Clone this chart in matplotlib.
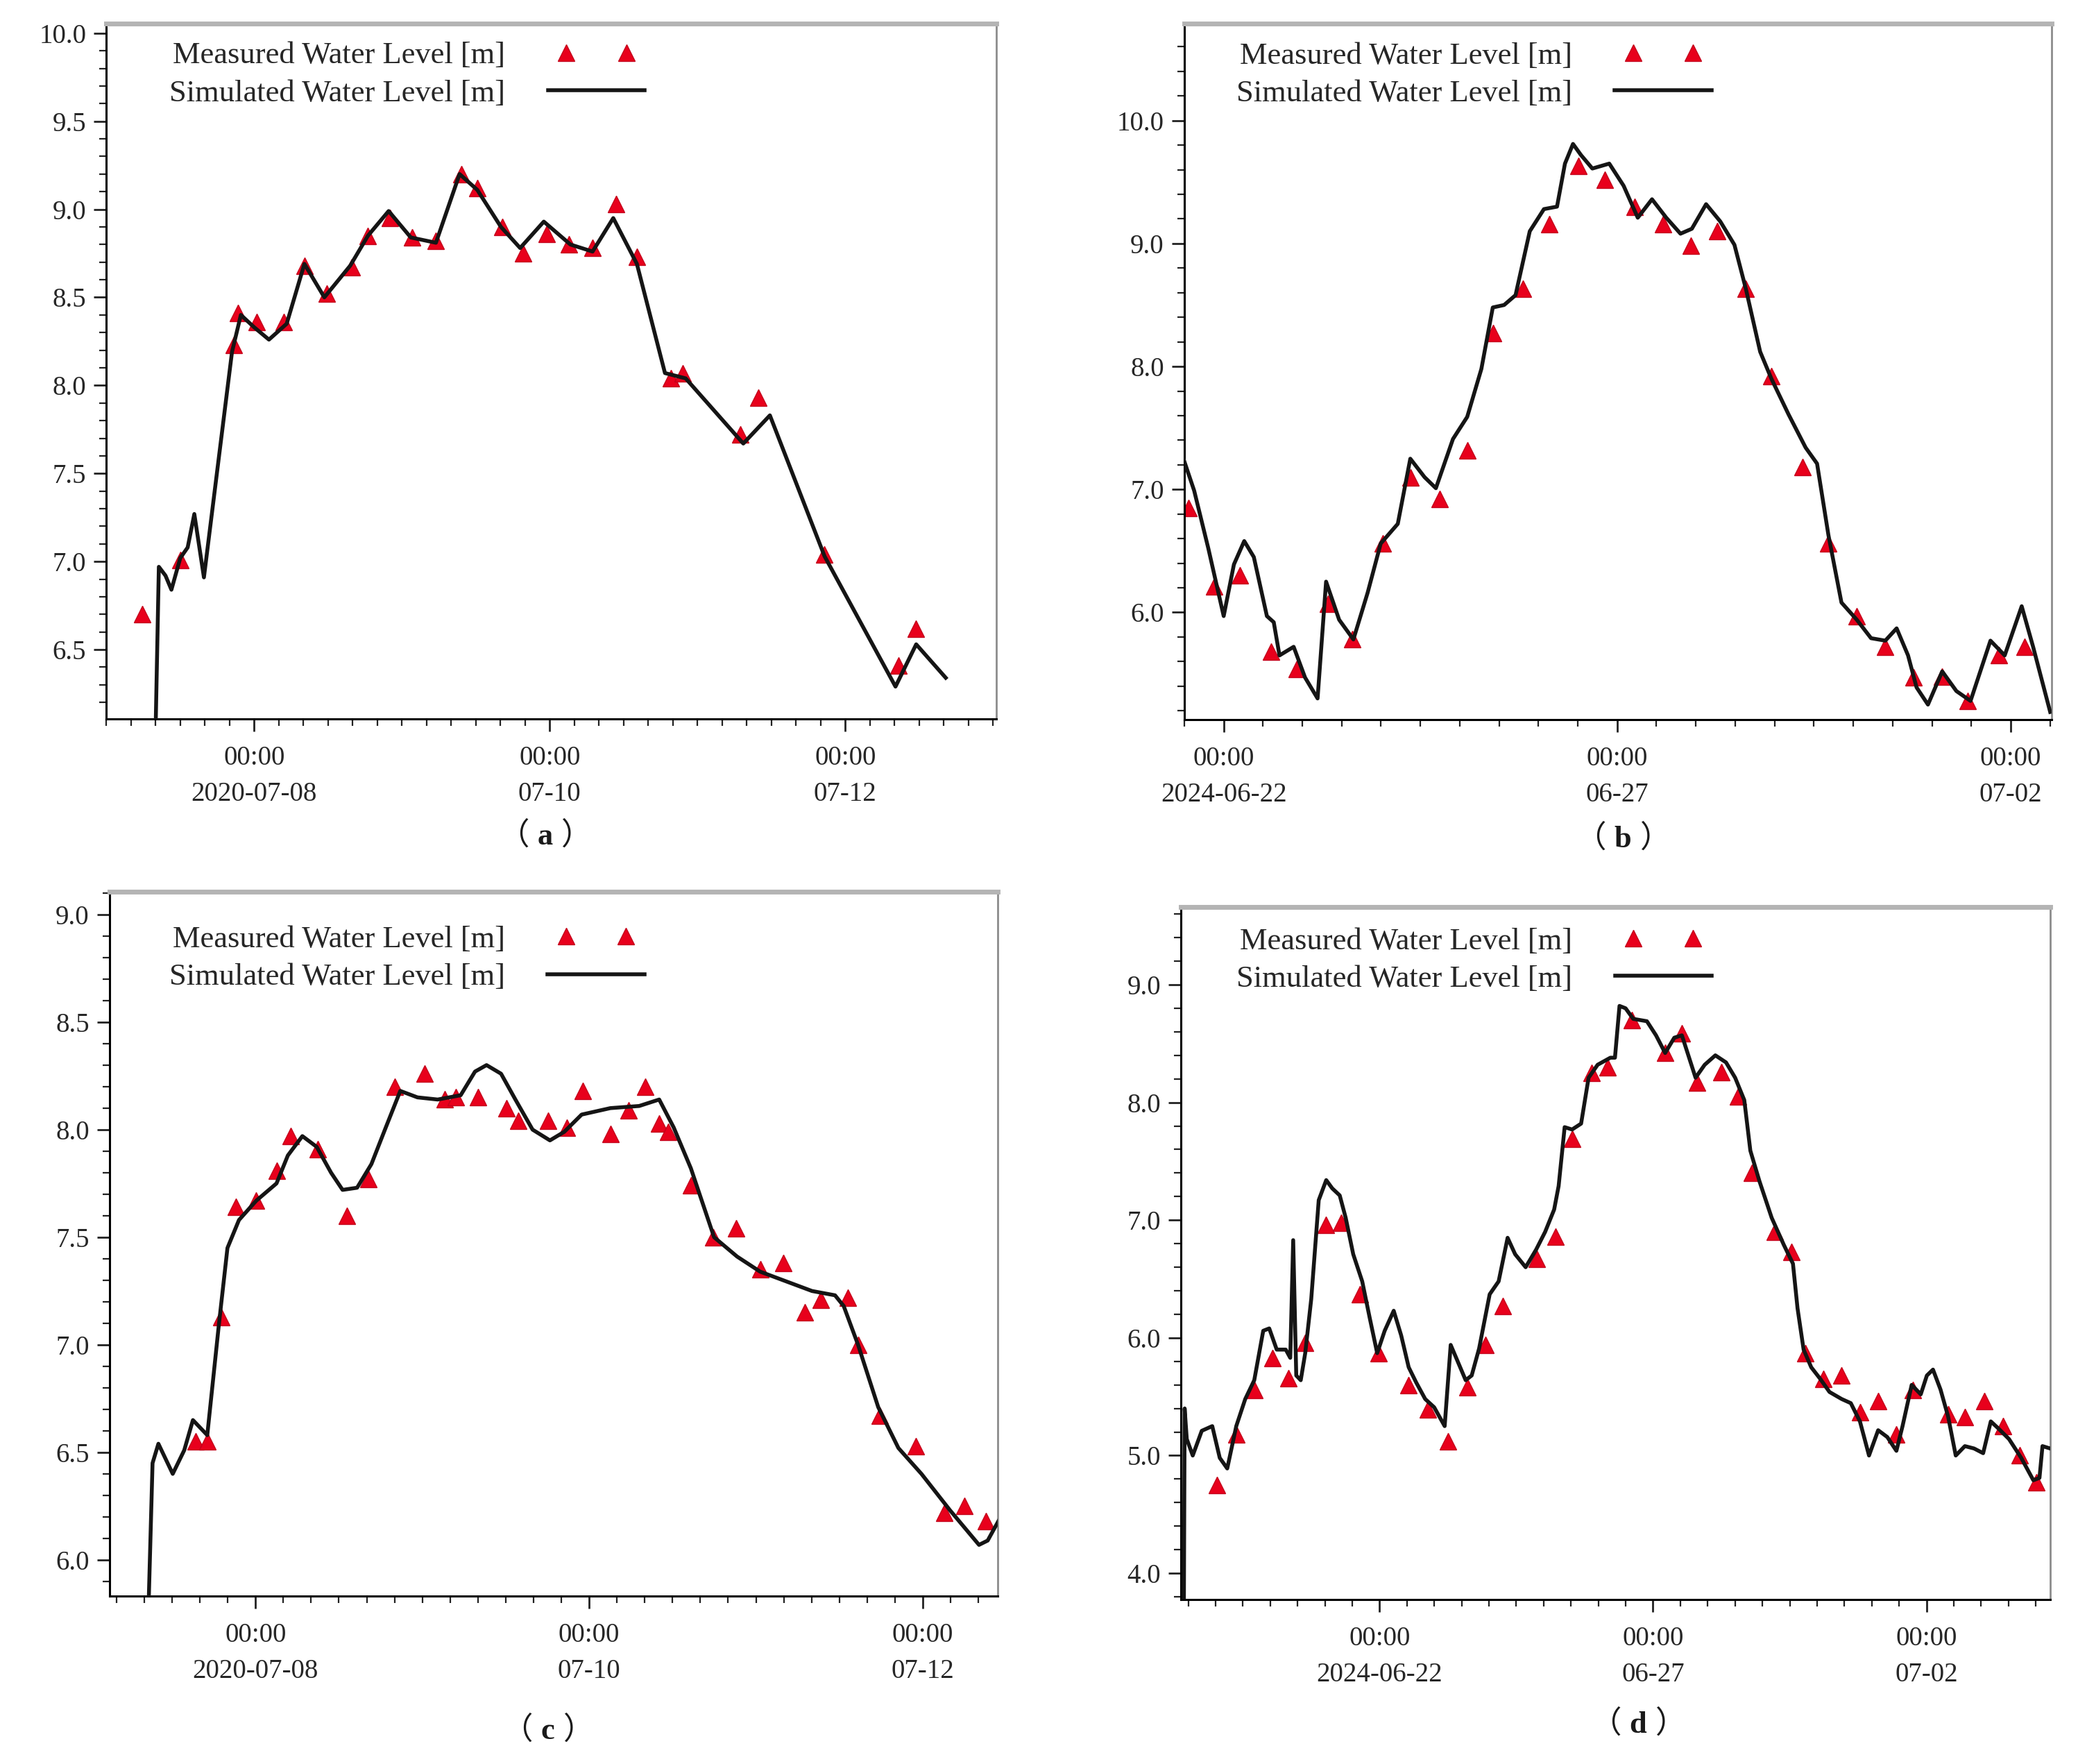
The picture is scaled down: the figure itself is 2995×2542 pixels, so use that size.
import numpy as np
import pandas as pd
import matplotlib
matplotlib.use("Agg")
import matplotlib.pyplot as plt
import matplotlib.dates as mdates
from matplotlib.legend_handler import HandlerLine2D
from matplotlib.ticker import MultipleLocator, FormatStrFormatter

plt.rcParams["font.family"] = ["Liberation Serif", "Noto Sans CJK SC"]
plt.rcParams["mathtext.fontset"] = "custom"
plt.rcParams["mathtext.rm"] = "Liberation Serif"
plt.rcParams["mathtext.bf"] = "Liberation Serif:bold"

# ---- data: times are days from the first labelled date (00:00) ----
base_ac = "2020-07-08"
base_bd = "2024-06-22"

sim_a_day = [-0.68, -0.645, -0.60, -0.56, -0.50, -0.45, -0.405, -0.34, -0.15, -0.09,
             0.0, 0.10, 0.22, 0.34, 0.475, 0.65, 0.77, 0.91, 1.06, 1.23,
             1.39, 1.51, 1.67, 1.80, 1.96, 2.14, 2.29, 2.43, 2.59, 2.78,
             2.92, 3.31, 3.49, 3.86, 4.34, 4.48, 4.68]
sim_a_lvl = [5.5, 6.97, 6.92, 6.84, 7.02, 7.08, 7.27, 6.91, 8.19, 8.40,
             8.33, 8.26, 8.35, 8.69, 8.50, 8.68, 8.85, 8.99, 8.84, 8.81,
             9.20, 9.11, 8.90, 8.78, 8.93, 8.80, 8.76, 8.95, 8.69, 8.07,
             8.04, 7.67, 7.83, 7.03, 6.29, 6.53, 6.34]
meas_a_day = [-0.757, -0.50, -0.14, -0.11, 0.016, 0.20, 0.34, 0.49, 0.66, 0.77,
              0.92, 1.07, 1.23, 1.40, 1.51, 1.68, 1.82, 1.98, 2.13, 2.29,
              2.45, 2.59, 2.82, 2.90, 3.29, 3.41, 3.86, 4.36, 4.48]
meas_a_lvl = [6.70, 7.01, 8.23, 8.41, 8.36, 8.36, 8.68, 8.52, 8.67, 8.85,
              8.95, 8.84, 8.82, 9.20, 9.12, 8.90, 8.75, 8.86, 8.80, 8.78,
              9.03, 8.73, 8.04, 8.07, 7.72, 7.93, 7.04, 6.41, 6.62]

sim_b_day = [-0.50, -0.374, -0.194, 0.001, 0.131, 0.262, 0.384, 0.55, 0.637, 0.71,
             0.89, 1.035, 1.194, 1.302, 1.468, 1.649, 1.83, 1.996, 2.213, 2.372,
             2.553, 2.697, 2.914, 3.095, 3.275, 3.42, 3.564, 3.709, 3.89, 4.07,
             4.236, 4.337, 4.439, 4.54, 4.685, 4.90, 5.082, 5.262, 5.443, 5.624,
             5.805, 5.949, 6.13, 6.31, 6.49, 6.636, 6.817, 6.96, 7.178, 7.395,
             7.54, 7.684, 7.85, 8.045, 8.226, 8.407, 8.551, 8.696, 8.804, 8.949,
             9.13, 9.31, 9.49, 9.743, 9.924, 10.14, 10.285, 10.502]
sim_b_lvl = [7.23, 6.99, 6.52, 5.97, 6.39, 6.58, 6.45, 5.97, 5.92, 5.65,
             5.72, 5.47, 5.30, 6.25, 5.94, 5.78, 6.16, 6.56, 6.72, 7.25,
             7.10, 7.01, 7.41, 7.59, 7.98, 8.48, 8.50, 8.58, 9.10, 9.28,
             9.30, 9.65, 9.81, 9.72, 9.61, 9.65, 9.47, 9.21, 9.36, 9.21,
             9.08, 9.12, 9.32, 9.18, 8.99, 8.63, 8.12, 7.90, 7.61, 7.34,
             7.21, 6.63, 6.08, 5.94, 5.79, 5.77, 5.87, 5.65, 5.39, 5.25,
             5.52, 5.36, 5.28, 5.77, 5.65, 6.05, 5.72, 5.19]
meas_b_day = [-0.447, -0.12, 0.204, 0.601, 0.926, 1.324, 1.635, 2.025, 2.372, 2.748,
              3.095, 3.42, 3.803, 4.142, 4.504, 4.843, 5.226, 5.588, 5.935, 6.275,
              6.636, 6.96, 7.358, 7.684, 8.045, 8.407, 8.77, 9.13, 9.455, 9.852,
              10.177]
meas_b_lvl = [6.85, 6.21, 6.30, 5.68, 5.54, 6.07, 5.78, 6.56, 7.10, 6.92,
              7.32, 8.27, 8.63, 9.16, 9.63, 9.52, 9.30, 9.16, 8.98, 9.10,
              8.63, 7.92, 7.18, 6.56, 5.97, 5.72, 5.47, 5.48, 5.28, 5.65,
              5.72]

sim_c_day = [-0.651, -0.617, -0.582, -0.496, -0.427, -0.375, -0.289, -0.22, -0.168, -0.099,
             0.005, 0.126, 0.194, 0.281, 0.367, 0.453, 0.522, 0.609, 0.695, 0.781,
             0.868, 0.971, 1.092, 1.23, 1.316, 1.385, 1.472, 1.558, 1.661, 1.765,
             1.851, 1.955, 2.127, 2.30, 2.42, 2.507, 2.61, 2.749, 2.887, 3.025,
             3.163, 3.336, 3.474, 3.526, 3.612, 3.733, 3.854, 3.992, 4.164, 4.337,
             4.389, 4.46]
sim_c_lvl = [5.5, 6.45, 6.54, 6.40, 6.51, 6.65, 6.58, 7.09, 7.45, 7.58,
             7.67, 7.75, 7.88, 7.97, 7.92, 7.80, 7.72, 7.73, 7.84, 8.01,
             8.18, 8.15, 8.14, 8.16, 8.27, 8.30, 8.26, 8.14, 8.00, 7.95,
             7.99, 8.07, 8.10, 8.11, 8.14, 8.01, 7.82, 7.50, 7.41, 7.34,
             7.30, 7.25, 7.23, 7.18, 7.00, 6.71, 6.52, 6.40, 6.23, 6.07,
             6.09, 6.19]
meas_c_day = [-0.358, -0.289, -0.203, -0.116, 0.005, 0.126, 0.212, 0.374, 0.547, 0.678,
              0.833, 1.012, 1.133, 1.202, 1.334, 1.506, 1.575, 1.755, 1.868, 1.962,
              2.127, 2.238, 2.335, 2.421, 2.473, 2.61, 2.742, 2.88, 3.025, 3.163,
              3.294, 3.387, 3.55, 3.612, 3.743, 3.957, 4.13, 4.25, 4.378]
meas_c_lvl = [6.55, 6.55, 7.13, 7.64, 7.67, 7.81, 7.97, 7.91, 7.60, 7.77,
              8.20, 8.26, 8.14, 8.15, 8.15, 8.10, 8.04, 8.04, 8.01, 8.18,
              7.98, 8.09, 8.20, 8.03, 7.99, 7.74, 7.50, 7.54, 7.35, 7.38,
              7.15, 7.21, 7.22, 7.00, 6.67, 6.53, 6.22, 6.25, 6.18]

sim_d_day = [-3.581, -3.565, -3.526, -3.417, -3.252, -3.06, -2.923, -2.786, -2.621, -2.457,
             -2.292, -2.128, -2.018, -1.881, -1.716, -1.634, -1.58, -1.524, -1.442, -1.36,
             -1.25, -1.113, -0.976, -0.866, -0.729, -0.62, -0.482, -0.318, -0.181, -0.044,
             0.093, 0.258, 0.395, 0.532, 0.67, 0.834, 0.998, 1.19, 1.30, 1.437,
             1.574, 1.684, 1.82, 2.013, 2.177, 2.341, 2.479, 2.671, 2.863, 3.027,
             3.192, 3.274, 3.384, 3.52, 3.685, 3.822, 3.987, 4.22, 4.304, 4.387,
             4.498, 4.638, 4.888, 5.055, 5.222, 5.389, 5.528, 5.778, 5.945, 6.14,
             6.335, 6.502, 6.669, 6.78, 6.947, 7.17, 7.392, 7.559, 7.643, 7.754,
             7.893, 8.06, 8.227, 8.45, 8.617, 8.784, 8.95, 9.117, 9.284, 9.451,
             9.563, 9.73, 9.896, 10.008, 10.12, 10.258, 10.397, 10.536, 10.703, 10.87,
             11.037, 11.177, 11.316, 11.51, 11.733, 11.955, 12.067, 12.122, 12.262]
sim_d_lvl = [3.5, 5.40, 5.14, 5.00, 5.21, 5.25, 4.98, 4.89, 5.25, 5.48,
             5.64, 6.06, 6.08, 5.90, 5.90, 5.83, 6.83, 5.68, 5.64, 5.87,
             6.33, 7.17, 7.34, 7.27, 7.21, 7.02, 6.71, 6.48, 6.17, 5.87,
             6.06, 6.23, 6.02, 5.75, 5.62, 5.48, 5.41, 5.25, 5.94, 5.79,
             5.64, 5.68, 5.91, 6.37, 6.48, 6.85, 6.71, 6.60, 6.75, 6.90,
             7.09, 7.29, 7.79, 7.77, 7.82, 8.21, 8.32, 8.38, 8.38, 8.82,
             8.80, 8.71, 8.69, 8.57, 8.42, 8.55, 8.57, 8.21, 8.32, 8.40,
             8.34, 8.21, 8.02, 7.59, 7.33, 7.02, 6.79, 6.63, 6.25, 5.90,
             5.75, 5.65, 5.54, 5.48, 5.445, 5.29, 5.00, 5.215, 5.157, 5.04,
             5.25, 5.60, 5.52, 5.68, 5.73, 5.56, 5.33, 5.00, 5.08, 5.06,
             5.02, 5.29, 5.23, 5.14, 4.98, 4.79, 4.81, 5.08, 5.06]
meas_d_day = [-2.978, -2.621, -2.292, -1.963, -1.662, -1.36, -0.976, -0.702, -0.362, -0.017,
              0.532, 0.888, 1.245, 1.601, 1.93, 2.259, 2.874, 3.219, 3.52, 3.877,
              4.17, 4.61, 5.22, 5.528, 5.806, 6.252, 6.558, 6.808, 7.225, 7.531,
              7.782, 8.116, 8.45, 8.784, 9.117, 9.451, 9.757, 10.397, 10.703, 11.065,
              11.399, 11.705, 12.011]
meas_d_lvl = [4.75, 5.18, 5.56, 5.83, 5.66, 5.96, 6.96, 6.98, 6.37, 5.87,
              5.60, 5.39, 5.12, 5.58, 5.94, 6.27, 6.67, 6.86, 7.69, 8.25,
              8.30, 8.70, 8.42, 8.59, 8.17, 8.26, 8.05, 7.40, 6.90, 6.73,
              5.87, 5.65, 5.68, 5.37, 5.46, 5.18, 5.56, 5.35, 5.33, 5.46,
              5.25, 5.00, 4.77]

tick_days_ac = [0, 2, 4]
tick_labels_ac = ["00:00\n2020-07-08", "00:00\n07-10", "00:00\n07-12"]
tick_days_bd = [0, 5, 10]
tick_labels_bd = ["00:00\n2024-06-22", "00:00\n06-27", "00:00\n07-02"]

label_meas = "Measured Water Level [m]"
label_sim = "Simulated Water Level [m]"
panel_letters = ["a", "b", "c", "d"]


def to_time(base, days):
    return pd.Timestamp(base) + pd.to_timedelta(np.asarray(days, dtype=float), unit="D")


def draw_panel(ax, base, sim_day, sim_lvl, meas_day, meas_lvl, xlim, ylim,
               ystep, yminor, tick_days, tick_labels, minor_hours, leg_xy):
    meas_line, = ax.plot(to_time(base, meas_day), meas_lvl, linestyle="none",
                         marker="^", ms=17, color="#e8001c", mec="#c4001a",
                         label=label_meas, zorder=2)
    sim_line, = ax.plot(to_time(base, sim_day), sim_lvl, color="#151515",
                        lw=4, label=label_sim, zorder=3)
    ax.set_xlim(to_time(base, [xlim[0]])[0], to_time(base, [xlim[1]])[0])
    ax.set_ylim(*ylim)
    ax.set_xticks(list(to_time(base, tick_days)))
    ax.set_xticklabels(tick_labels)
    for lab in ax.get_xticklabels():
        lab.set_linespacing(1.55)
    ax.xaxis.set_minor_locator(mdates.HourLocator(byhour=minor_hours))
    ax.yaxis.set_major_locator(MultipleLocator(ystep))
    ax.yaxis.set_minor_locator(MultipleLocator(yminor))
    ax.yaxis.set_major_formatter(FormatStrFormatter("%.1f"))
    ax.tick_params(which="major", direction="out", length=13, width=2,
                   labelsize=28, labelcolor="#262626", color="#222222")
    ax.tick_params(axis="x", which="major", pad=14)
    ax.tick_params(axis="y", which="major", pad=8)
    ax.tick_params(which="minor", direction="out", length=7, width=1.6,
                   color="#222222")
    ax.spines["left"].set_linewidth(2.2)
    ax.spines["bottom"].set_linewidth(2.2)
    ax.spines["top"].set_color("#b4b4b4")
    ax.spines["top"].set_linewidth(5)
    ax.spines["right"].set_color("#8c8c8c")
    ax.spines["right"].set_linewidth(2)
    leg = ax.legend(handles=[meas_line, sim_line], loc="upper left",
                    bbox_to_anchor=leg_xy, frameon=False, markerfirst=False,
                    numpoints=2, fontsize=32, handlelength=3.74,
                    handletextpad=1.08, labelspacing=0.32, borderpad=0,
                    borderaxespad=0,
                    handler_map={meas_line: HandlerLine2D(marker_pad=0.9)})
    for txt in leg.get_texts():
        txt.set_color("#262626")


fig = plt.figure(figsize=(29.95, 25.42), dpi=100)

ax_a = fig.add_axes([0.0512, 0.5924, 0.4281, 0.3941])
ax_b = fig.add_axes([0.5699, 0.5920, 0.4174, 0.3945])
ax_c = fig.add_axes([0.0527, 0.0952, 0.4275, 0.3993])
ax_d = fig.add_axes([0.5683, 0.0932, 0.4185, 0.3928])

draw_panel(ax_a, base_ac, sim_a_day, sim_a_lvl, meas_a_day, meas_a_lvl,
           (-1.0, 5.02), (6.106, 10.053), 0.5, 0.1, tick_days_ac, tick_labels_ac,
           range(0, 24, 4), (0.071, 0.974))
draw_panel(ax_b, base_bd, sim_b_day, sim_b_lvl, meas_b_day, meas_b_lvl,
           (-0.5, 10.52), (5.127, 10.787), 1.0, 0.2, tick_days_bd, tick_labels_bd,
           [0, 12], (0.06, 0.974))
draw_panel(ax_c, base_ac, sim_c_day, sim_c_lvl, meas_c_day, meas_c_lvl,
           (-0.875, 4.45), (5.832, 9.106), 0.5, 0.1, tick_days_ac, tick_labels_ac,
           range(0, 24, 4), (0.067, 0.952))
draw_panel(ax_d, base_bd, sim_d_day, sim_d_lvl, meas_d_day, meas_d_lvl,
           (-3.633, 12.27), (3.776, 9.663), 1.0, 0.2, tick_days_bd, tick_labels_bd,
           [0, 12], (0.064, 0.970))

# panel tags: full-width brackets around a bold serif letter
tag_xy = [(0.2575, 0.5267), (0.7761, 0.5250), (0.2586, 0.0193), (0.7834, 0.0232)]
for letter, (x, y) in zip(panel_letters, tag_xy):
    fig.text(x, y, "（$\\;\\mathbf{" + letter + "}\\;$）", ha="center", va="center",
             fontsize=32, color="#1a1a1a", family=["Noto Sans CJK SC"])

fig.savefig("out.png", dpi=100, facecolor="white")
